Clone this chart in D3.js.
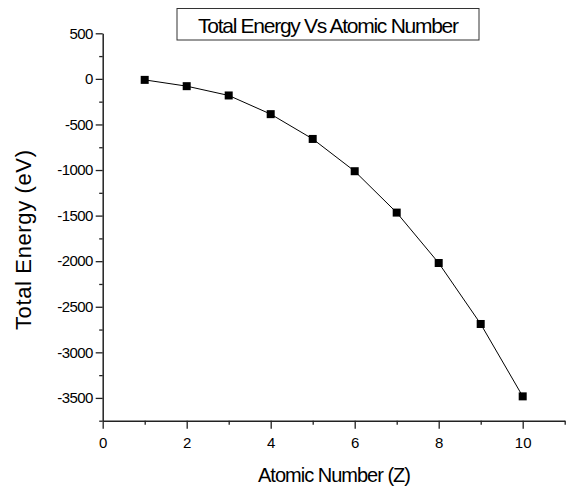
<!DOCTYPE html>
<html>
<head>
<meta charset="utf-8">
<script src="https://cdn.jsdelivr.net/npm/d3@7"></script>
<style>
  body { margin: 0; background: #fff; }
  svg text { font-family: "Liberation Sans", Arial, sans-serif; fill: #000; }
</style>
</head>
<body>
<div id="chart"></div>
<script>
// data
const atomicNumber = [1, 2, 3, 4, 5, 6, 7, 8, 9, 10];
const totalEnergy = [-11, -80, -182, -387, -659, -1013, -1467, -2020, -2689, -3483];
const yTicks = [500, 0, -500, -1000, -1500, -2000, -2500, -3000, -3500];
const yMinor = [250, -250, -750, -1250, -1750, -2250, -2750, -3250, -3750];
const xTicks = [0, 2, 4, 6, 8, 10];
const xMinor = [1, 3, 5, 7, 9, 11];

const width = 566, height = 486;
const plot = {left: 102.7, right: 564.7, top: 33.3, bottom: 420.7};

const svg = d3.select("#chart").append("svg")
  .attr("width", width)
  .attr("height", height);

const x = d3.scaleLinear().domain([0, 11]).range([plot.left, plot.right]);
const y = d3.scaleLinear().domain([-3750, 500]).range([plot.bottom, plot.top]);

// y axis, major + minor
const yAxis = svg.append("g")
  .attr("transform", `translate(${plot.left},0)`)
  .call(d3.axisLeft(y).tickValues(yTicks).tickSize(7).tickPadding(3).tickSizeOuter(0)
    .tickFormat(d => String(d)));
yAxis.selectAll("text").attr("font-size", 15).attr("letter-spacing", -0.6);
svg.append("g")
  .attr("transform", `translate(${plot.left},0)`)
  .call(d3.axisLeft(y).tickValues(yMinor).tickSize(3.5).tickFormat(""))
  .select(".domain").remove();

// x axis, major + minor
const xAxis = svg.append("g")
  .attr("transform", `translate(0,${plot.bottom})`)
  .call(d3.axisBottom(x).tickValues(xTicks).tickSize(8).tickPadding(9).tickSizeOuter(0));
xAxis.selectAll("text").attr("font-size", 15);
svg.append("g")
  .attr("transform", `translate(0,${plot.bottom})`)
  .call(d3.axisBottom(x).tickValues(xMinor).tickSize(4).tickFormat(""))
  .select(".domain").remove();

svg.selectAll(".domain").attr("stroke", "#222").attr("stroke-width", 1.5);
svg.selectAll(".tick line").attr("stroke", "#222").attr("stroke-width", 1.3);

// line + square markers
const pts = atomicNumber.map((z, i) => ({z, e: totalEnergy[i]}));
svg.append("path")
  .datum(pts)
  .attr("fill", "none")
  .attr("stroke", "#000")
  .attr("stroke-width", 1)
  .attr("d", d3.line().x(d => x(d.z)).y(d => y(d.e)));

svg.selectAll("rect.pt")
  .data(pts)
  .enter().append("rect")
  .attr("class", "pt")
  .attr("x", d => x(d.z) - 4)
  .attr("y", d => y(d.e) - 4)
  .attr("width", 8)
  .attr("height", 8)
  .attr("fill", "#000");

// title box
svg.append("rect")
  .attr("x", 177).attr("y", 8.5)
  .attr("width", 302).attr("height", 31.5)
  .attr("fill", "#fff").attr("stroke", "#333").attr("stroke-width", 1);
svg.append("text")
  .attr("x", 198).attr("y", 33)
  .attr("font-size", 21)
  .attr("textLength", 261)
  .attr("lengthAdjust", "spacing")
  .text("Total Energy Vs Atomic Number");

// axis titles
svg.append("text")
  .attr("x", 258).attr("y", 482)
  .attr("font-size", 20)
  .attr("textLength", 153)
  .attr("lengthAdjust", "spacing")
  .text("Atomic Number (Z)");

svg.append("text")
  .attr("transform", "translate(30.5,330) rotate(-90)")
  .attr("font-size", 22)
  .attr("textLength", 180)
  .attr("lengthAdjust", "spacing")
  .text("Total Energy (eV)");
</script>
</body>
</html>
